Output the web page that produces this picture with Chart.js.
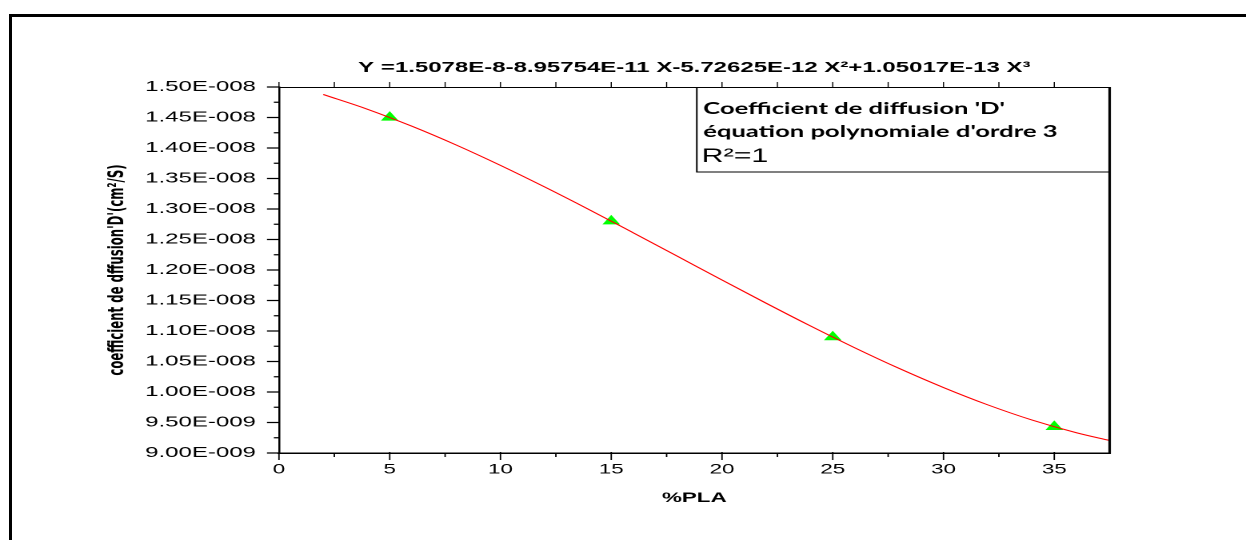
<!DOCTYPE html>
<html>
<head>
<meta charset="utf-8">
<script src="https://cdn.jsdelivr.net/npm/chart.js@4.4.1/dist/chart.umd.min.js"></script>
<style>
  html, body { margin: 0; padding: 0; background: #fff; }
  #page { position: relative; width: 1246px; height: 540px; overflow: hidden; background: #fff; }
  #frame { position: absolute; left: 9px; top: 14px; width: 1400px; height: 700px;
           border-left: 3px solid #000; border-top: 3px solid #000; }
  /* the chart is drawn on a narrower canvas and widened horizontally */
  #stage { position: absolute; left: 0; top: 0; width: 779px; height: 540px;
           transform: scaleX(1.59949); transform-origin: 0 0; }
</style>
</head>
<body>
<div id="page">
  <div id="frame"></div>
  <div id="stage"><canvas id="c" width="779" height="540"></canvas></div>
</div>
<script>
// measured diffusion coefficients (cm²/s) against PLA content (%)
const pla = [5, 15, 25, 35];
const diffusion = [1.45e-8, 1.28e-8, 1.09e-8, 9.43e-9];

// third-order polynomial fit curve
const fitX = [2, 4, 6, 8, 10, 12, 14, 16, 18, 20, 22, 24, 26, 28, 30, 32, 34, 36, 37.5];
const fitY = [1.4877e-8, 1.4635e-8, 1.4357e-8, 1.4049e-8, 1.3715e-8, 1.3360e-8, 1.2990e-8,
              1.2609e-8, 1.2223e-8, 1.1836e-8, 1.1454e-8, 1.1082e-8, 1.0724e-8, 1.0386e-8,
              1.0073e-8, 9.789e-9, 9.540e-9, 9.332e-9, 9.204e-9];

// axes
const xTickValues = [0, 5, 10, 15, 20, 25, 30, 35];
const xTickLabels = ['0', '5', '10', '15', '20', '25', '30', '35'];
const xMinorValues = [2.5, 7.5, 12.5, 17.5, 22.5, 27.5, 32.5];
const yTickValues = [9.0e-9, 9.5e-9, 1.0e-8, 1.05e-8, 1.1e-8, 1.15e-8, 1.2e-8,
                     1.25e-8, 1.3e-8, 1.35e-8, 1.4e-8, 1.45e-8, 1.5e-8];
const yTickLabels = ['9.00E-009', '9.50E-009', '1.00E-008', '1.05E-008', '1.10E-008',
                     '1.15E-008', '1.20E-008', '1.25E-008', '1.30E-008', '1.35E-008',
                     '1.40E-008', '1.45E-008', '1.50E-008'];
const yMinorValues = [9.25e-9, 9.75e-9, 1.025e-8, 1.075e-8, 1.125e-8, 1.175e-8,
                      1.225e-8, 1.275e-8, 1.325e-8, 1.375e-8, 1.425e-8, 1.475e-8];

const titleText = 'Y =1.5078E-8-8.95754E-11 X-5.72625E-12 X²+1.05017E-13 X³';
const boxLines = ["Coefficient de diffusion 'D'", "équation polynomiale d'ordre 3"];
const boxR2 = 'R²=1';

const SANS = "'Liberation Sans', Arial, sans-serif";

const axisDecor = {
  id: 'axisDecor',
  afterDraw(chart) {
    const { ctx, chartArea: a, scales: { x, y } } = chart;
    ctx.save();
    ctx.strokeStyle = '#000';

    // left axis ticks (outward)
    ctx.lineWidth = 1.2;
    ctx.beginPath();
    yTickValues.forEach(v => { const p = y.getPixelForValue(v); ctx.moveTo(a.left - 7.5, p); ctx.lineTo(a.left, p); });
    yMinorValues.forEach(v => { const p = y.getPixelForValue(v); ctx.moveTo(a.left - 3.2, p); ctx.lineTo(a.left, p); });
    ctx.stroke();

    // bottom axis ticks (outward)
    ctx.lineWidth = 0.9;
    ctx.beginPath();
    xTickValues.forEach(v => { const p = x.getPixelForValue(v); ctx.moveTo(p, a.bottom - 1); ctx.lineTo(p, a.bottom + 7); });
    xMinorValues.forEach(v => { const p = x.getPixelForValue(v); ctx.moveTo(p, a.bottom); ctx.lineTo(p, a.bottom + 4); });
    ctx.stroke();

    // top axis line and its small ticks
    ctx.lineWidth = 0.7;
    ctx.beginPath();
    [...xTickValues, ...xMinorValues].forEach(v => { const p = x.getPixelForValue(v); ctx.moveTo(p, a.top); ctx.lineTo(p, a.top - 5); });
    ctx.stroke();
    ctx.lineWidth = 1;
    ctx.beginPath();
    ctx.moveTo(a.left, a.top + 0.5); ctx.lineTo(a.right, a.top + 0.5);
    ctx.stroke();

    // right axis line
    ctx.lineWidth = 1.6;
    ctx.beginPath();
    ctx.moveTo(a.right, a.top); ctx.lineTo(a.right, a.bottom + 0.75);
    ctx.stroke();

    // annotation box
    const bx0 = a.left + 261.25, by0 = a.top + 0.5, bx1 = a.right, by1 = a.top + 85;
    ctx.lineWidth = 1;
    ctx.strokeRect(bx0, by0, bx1 - bx0, by1 - by0);
    ctx.fillStyle = '#000';
    ctx.textAlign = 'left';
    ctx.textBaseline = 'alphabetic';
    ctx.font = "bold 16px Lato, 'Open Sans', sans-serif";
    ctx.fillText(boxLines[0], bx0 + 4, a.top + 27);
    ctx.fillText(boxLines[1], bx0 + 4, a.top + 50);
    ctx.font = "19px " + SANS;
    ctx.fillText(boxR2, bx0 + 3, a.top + 75);
    ctx.restore();
  }
};

new Chart(document.getElementById('c'), {
  type: 'scatter',
  data: {
    datasets: [
      {
        label: 'fit',
        data: fitX.map((v, i) => ({ x: v, y: fitY[i] })),
        showLine: true,
        borderColor: '#ff0000',
        borderWidth: 1,
        pointRadius: 0,
        cubicInterpolationMode: 'monotone',
        fill: false
      },
      {
        label: 'D',
        data: pla.map((v, i) => ({ x: v, y: diffusion[i] })),
        pointStyle: 'triangle',
        pointRadius: 6.35,
        backgroundColor: '#00ff00',
        borderColor: '#00ff00',
        borderWidth: 0,
        showLine: false
      }
    ]
  },
  options: {
    responsive: false,
    animation: false,
    devicePixelRatio: 2,
    events: [],
    layout: { padding: { left: 60, right: 85.25, top: 20, bottom: 0 } },
    plugins: {
      legend: { display: false },
      tooltip: { enabled: false },
      title: {
        display: true,
        text: titleText,
        fullSize: false,
        color: '#000',
        font: { family: SANS, size: 15, weight: 'bold' },
        padding: { top: 39, bottom: 10 }
      }
    },
    scales: {
      x: {
        type: 'linear',
        min: 0,
        max: 37.5,
        grid: { display: false, drawTicks: false },
        border: { display: true, color: '#000', width: 1.5 },
        afterBuildTicks: s => { s.ticks = xTickValues.map(v => ({ value: v })); },
        afterFit: s => { s.height = 87; },
        ticks: {
          callback: (v, i) => xTickLabels[i],
          color: '#000',
          font: { family: SANS, size: 14 },
          padding: 8,
          maxRotation: 0,
          autoSkip: false
        },
        title: {
          display: true,
          text: '%PLA',
          color: '#000',
          font: { family: SANS, size: 14, weight: 'bold' },
          padding: { top: 0, bottom: 33.6 }
        }
      },
      y: {
        type: 'linear',
        min: 9e-9,
        max: 1.5e-8,
        grid: { display: false, drawTicks: false },
        border: { display: true, color: '#000', width: 1.25 },
        afterBuildTicks: s => { s.ticks = yTickValues.map(v => ({ value: v })); },
        afterFit: s => { s.width = 114.4; },
        ticks: {
          callback: (v, i) => yTickLabels[i],
          color: '#000',
          font: { family: SANS, size: 15 },
          padding: 14.4,
          autoSkip: false
        },
        title: {
          display: true,
          text: "coefficient de dffusion'D'(cm²/S)",
          color: '#000',
          font: { family: "'Liberation Sans Narrow', 'DejaVu Sans Condensed', sans-serif", size: 13, weight: 'bold' },
          padding: { top: 6, bottom: 0 }
        }
      }
    }
  },
  plugins: [axisDecor]
});
</script>
</body>
</html>
